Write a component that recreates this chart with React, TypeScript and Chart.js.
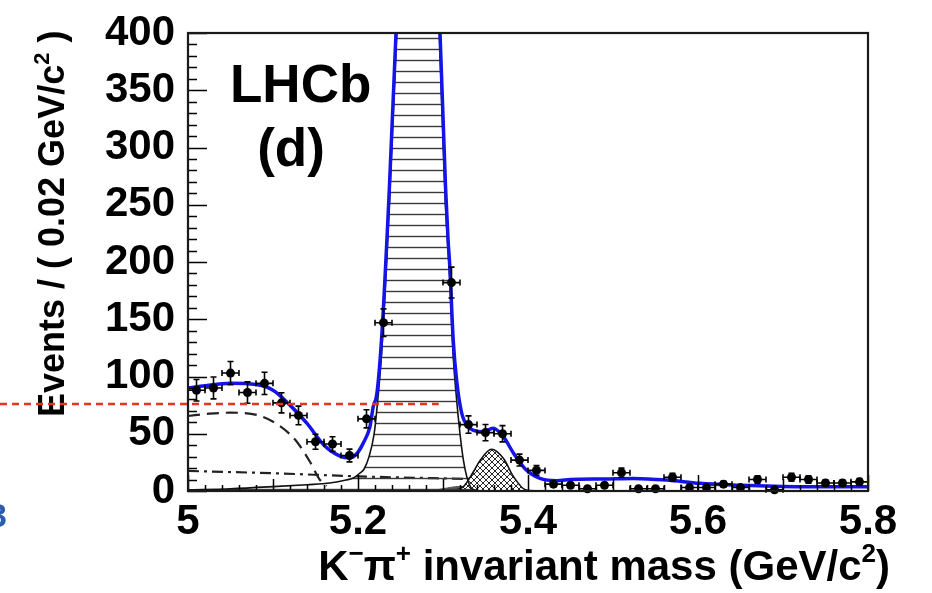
import React, { useEffect, useRef } from "react";
import { Chart, registerables } from "chart.js";

Chart.register(...registerables);

const FONT = "'Liberation Sans', Arial, Helvetica, sans-serif";

// ---- data points (bins of 0.02 GeV/c^2) ----
const binCenters = [5.01, 5.03, 5.05, 5.07, 5.09, 5.11, 5.13, 5.15, 5.17, 5.19, 5.21, 5.23, 5.25, 5.27, 5.29, 5.31, 5.33, 5.35, 5.37, 5.39, 5.41, 5.43, 5.45, 5.47, 5.49, 5.51, 5.53, 5.55, 5.57, 5.59, 5.61, 5.63, 5.65, 5.67, 5.69, 5.71, 5.73, 5.75, 5.77, 5.79];
const binCounts = [88, 90, 103, 86, 94, 77, 66, 43, 41, 31, 63, 147, 560, 690, 520, 182, 58, 51, 50, 27, 18, 6, 5, 2, 5, 16, 2, 2, 12, 3, 3, 6, 3, 10, 1, 12, 10, 7, 7, 8];
const binErrors = [9.4, 9.5, 10.1, 9.3, 9.7, 8.8, 8.1, 6.6, 6.4, 5.6, 7.9, 12.1, 23.7, 26.3, 22.8, 13.5, 7.6, 7.1, 7.1, 5.2, 4.2, 2.4, 2.2, 1.4, 2.2, 4.0, 1.4, 1.4, 3.5, 1.7, 1.7, 2.4, 1.7, 3.2, 1.0, 3.5, 3.2, 2.6, 2.6, 2.8];
const binHalfWidth = 0.01;

// ---- total fit (blue) ----
const fitMass = [5.0, 5.02, 5.05, 5.08, 5.1, 5.12, 5.14, 5.16, 5.179, 5.19, 5.199, 5.206, 5.214, 5.218, 5.222, 5.228, 5.237, 5.245, 5.258, 5.271, 5.284, 5.296, 5.303, 5.306, 5.308, 5.312, 5.316, 5.322, 5.33, 5.336, 5.347, 5.359, 5.371, 5.383, 5.398, 5.414, 5.434, 5.45, 5.49, 5.524, 5.563, 5.602, 5.64, 5.68, 5.72, 5.76, 5.8];
const fitEvents = [90, 92, 94, 93, 88, 75, 59, 40, 30.5, 29, 33, 41.6, 56, 74, 84, 136, 266, 405, 600, 690, 600, 410, 265, 219, 196, 132, 97, 68, 56, 53, 51.8, 54.8, 47.4, 33, 18.3, 11, 9, 10, 10.5, 11, 9.6, 6.7, 5.2, 4.4, 3.8, 3.8, 3.8];

// ---- B0 -> K pi signal (black, horizontal hatching) ----
const sigMass = [5.0, 5.05, 5.1, 5.14, 5.167, 5.186, 5.195, 5.202, 5.207, 5.213, 5.219, 5.222, 5.228, 5.237, 5.2455, 5.258, 5.271, 5.284, 5.2957, 5.3027, 5.308, 5.312, 5.316, 5.32, 5.324, 5.328, 5.334, 5.345, 5.8];
const sigEvents = [1, 2, 3.8, 5.5, 7, 9.6, 11.5, 15.5, 19, 30, 50, 70, 123, 253, 400, 590, 680, 590, 400, 253, 185, 118, 80, 50, 27, 12.5, 2, 0, 0];

// ---- Bs -> K pi (cross-hatched) ----
const bsMass = [5.31, 5.324, 5.336, 5.344, 5.357, 5.371, 5.383, 5.397, 5.41];
const bsEvents = [0, 3.8, 17, 27, 36.4, 28.5, 12.5, 1, 0];

// ---- small dark-grey component ----
const greyMass = [5.285, 5.3, 5.32, 5.34, 5.355];
const greyEvents = [0, 2, 4, 2.5, 0];

// ---- partially reconstructed background (dashed) ----
const partMass = [5.0, 5.025, 5.05, 5.081, 5.108, 5.128, 5.1435, 5.1553, 5.1631];
const partEvents = [65.5, 67.5, 68.4, 66.4, 56.8, 43, 25.5, 9.6, 4.5];

// ---- combinatorial background (dash-dot) ----
const combMass = [5.0, 5.1, 5.2, 5.3, 5.335];
const combEvents = [17.5, 15.5, 12.8, 11, 10.5];

// ---- axes ----
const xTickValues = [5.0, 5.2, 5.4, 5.6, 5.8];
const xTickLabels = ["5", "5.2", "5.4", "5.6", "5.8"];
const yTickValues = [0, 50, 100, 150, 200, 250, 300, 350, 400];
const yTickLabels = ["0", "50", "100", "150", "200", "250", "300", "350", "400"];
const markerLevel = 76; // red dashed guide level
const markerEnd = 5.295;

function makeHatch(): CanvasPattern | string {
  const c = document.createElement("canvas");
  c.width = 8;
  c.height = 11;
  const g = c.getContext("2d");
  if (!g) return "rgba(0,0,0,0.2)";
  g.strokeStyle = "#3a3a3a";
  g.lineWidth = 1.4;
  g.beginPath();
  g.moveTo(0, 5.5);
  g.lineTo(8, 5.5);
  g.stroke();
  return g.createPattern(c, "repeat") || "rgba(0,0,0,0.2)";
}

function makeCross(): CanvasPattern | string {
  const c = document.createElement("canvas");
  c.width = 6;
  c.height = 6;
  const g = c.getContext("2d");
  if (!g) return "#888";
  g.fillStyle = "#ffffff";
  g.fillRect(0, 0, 6, 6);
  g.strokeStyle = "#111";
  g.lineWidth = 0.9;
  g.beginPath();
  g.moveTo(-1, -1);
  g.lineTo(7, 7);
  g.moveTo(-1, 7);
  g.lineTo(7, -1);
  g.stroke();
  return g.createPattern(c, "repeat") || "#888";
}

const xy = (xs: number[], ys: number[]) => xs.map((x, i) => ({ x, y: ys[i] }));

const errorBarPlugin = {
  id: "errbars",
  beforeDatasetDraw(chart: any, args: any) {
    if (args.index !== 0) return;
    const { ctx, chartArea: a, scales } = chart;
    const xs = scales.x;
    const ys = scales.y;
    ctx.save();
    ctx.beginPath();
    ctx.rect(a.left, a.top, a.right - a.left, a.bottom - a.top + 6);
    ctx.clip();
    ctx.strokeStyle = "#000";
    ctx.lineWidth = 1.6;
    binCenters.forEach((c, i) => {
      const px = xs.getPixelForValue(c);
      const py = ys.getPixelForValue(binCounts[i]);
      const x0 = xs.getPixelForValue(c - binHalfWidth);
      const x1 = xs.getPixelForValue(c + binHalfWidth);
      const y0 = ys.getPixelForValue(binCounts[i] - binErrors[i]);
      const y1 = ys.getPixelForValue(binCounts[i] + binErrors[i]);
      ctx.beginPath();
      ctx.moveTo(x0, py);
      ctx.lineTo(x1, py);
      ctx.moveTo(px, y0);
      ctx.lineTo(px, y1);
      ctx.moveTo(x0, py - 3);
      ctx.lineTo(x0, py + 3);
      ctx.moveTo(x1, py - 3);
      ctx.lineTo(x1, py + 3);
      ctx.moveTo(px - 3, y0);
      ctx.lineTo(px + 3, y0);
      ctx.moveTo(px - 3, y1);
      ctx.lineTo(px + 3, y1);
      ctx.stroke();
    });
    ctx.restore();
  },
};

const framePlugin = {
  id: "frame",
  afterDatasetsDraw(chart: any) {
    const { ctx, chartArea: a, scales } = chart;
    const xs = scales.x;
    const ys = scales.y;
    ctx.save();
    ctx.strokeStyle = "#000";
    ctx.lineWidth = 1.5;
    ctx.beginPath();
    for (let v = 0; v <= 400; v += 10) {
      const y = Math.round(ys.getPixelForValue(v)) + 0.5;
      const len = v % 50 === 0 ? 19 : 9;
      ctx.moveTo(a.left, y);
      ctx.lineTo(a.left + len, y);
    }
    for (let i = 0; i <= 40; i++) {
      const x = Math.round(xs.getPixelForValue(5 + i * 0.02)) + 0.5;
      const len = i % 10 === 0 ? 16 : i % 5 === 0 ? 12 : 6;
      ctx.moveTo(x, a.bottom);
      ctx.lineTo(x, a.bottom - len);
    }
    ctx.stroke();
    ctx.lineWidth = 2.2;
    ctx.strokeStyle = "#1a1a1a";
    ctx.strokeRect(a.left, a.top, a.right - a.left, a.bottom - a.top);
    ctx.restore();
  },
};

function drawParts(ctx: CanvasRenderingContext2D, parts: { t: string; sup?: boolean }[], size: number, supSize: number, x: number, y: number, alignRight: boolean) {
  const widths = parts.map((p) => {
    ctx.font = `bold ${p.sup ? supSize : size}px ${FONT}`;
    return ctx.measureText(p.t).width;
  });
  const total = widths.reduce((s, w) => s + w, 0);
  let cx = alignRight ? x - total : x;
  parts.forEach((p, i) => {
    ctx.font = `bold ${p.sup ? supSize : size}px ${FONT}`;
    ctx.fillText(p.t, cx, p.sup ? y - size * 0.42 : y);
    cx += widths[i];
  });
}

const textPlugin = {
  id: "texts",
  afterDraw(chart: any) {
    const { ctx, scales } = chart;
    const xs = scales.x;
    const ys = scales.y;
    ctx.save();
    ctx.fillStyle = "#000";
    ctx.textAlign = "left";
    ctx.textBaseline = "alphabetic";

    // x title
    drawParts(
      ctx,
      [
        { t: "K" },
        { t: "\u2212", sup: true },
        { t: "\u03C0" },
        { t: "+", sup: true },
        { t: " invariant mass (GeV/c" },
        { t: "2", sup: true },
        { t: ")" },
      ],
      42,
      26,
      890,
      580,
      true
    );

    // y title (rotated)
    ctx.save();
    ctx.translate(64, 417);
    ctx.rotate(-Math.PI / 2);
    drawParts(
      ctx,
      [{ t: "Events / ( 0.02 GeV/c" }, { t: "2", sup: true }, { t: " )" }],
      36,
      22,
      0,
      0,
      false
    );
    ctx.restore();

    // LHCb label
    ctx.font = `bold 53px ${FONT}`;
    ctx.textAlign = "left";
    ctx.fillText("LHCb", 230, 102);
    ctx.textAlign = "center";
    ctx.fillText("(d)", 291, 166);

    // stray blue glyph at left edge
    ctx.fillStyle = "#2a5cb0";
    ctx.font = `bold 34px ${FONT}`;
    ctx.textAlign = "right";
    ctx.fillText("3", 7, 527);

    // red dashed guide line
    ctx.strokeStyle = "#e8321e";
    ctx.lineWidth = 2.5;
    ctx.setLineDash([7, 5]);
    ctx.beginPath();
    const ry = ys.getPixelForValue(markerLevel);
    ctx.moveTo(0, ry);
    ctx.lineTo(xs.getPixelForValue(markerEnd), ry);
    ctx.stroke();
    ctx.restore();
  },
};

export default function App() {
  const ref = useRef<HTMLCanvasElement | null>(null);

  useEffect(() => {
    const canvas = ref.current;
    if (!canvas) return;
    const hatch = makeHatch();
    const cross = makeCross();
    const tickFont = { family: FONT, size: 42, weight: "bold" as const, lineHeight: 0.8 };

    const chart = new Chart(canvas, {
      type: "scatter",
      data: {
        datasets: [
          {
            type: "scatter",
            data: xy(binCenters, binCounts),
            pointRadius: 4.5,
            pointBackgroundColor: "#000",
            pointBorderColor: "#000",
            pointBorderWidth: 0,
            clip: 8,
          } as any,
          {
            type: "line",
            data: xy(fitMass, fitEvents),
            borderColor: "#1414e6",
            borderWidth: 3.5,
            pointRadius: 0,
            cubicInterpolationMode: "monotone",
            fill: false,
            clip: 0,
          },
          {
            type: "line",
            data: xy(sigMass, sigEvents),
            borderColor: "#111",
            borderWidth: 1.6,
            pointRadius: 0,
            cubicInterpolationMode: "monotone",
            fill: "origin",
            backgroundColor: hatch as any,
            clip: 0,
          },
          {
            type: "line",
            data: xy(bsMass, bsEvents),
            borderColor: "#111",
            borderWidth: 1.6,
            pointRadius: 0,
            cubicInterpolationMode: "monotone",
            fill: "origin",
            backgroundColor: cross as any,
            clip: 0,
          },
          {
            type: "line",
            data: xy(greyMass, greyEvents),
            borderColor: "#555",
            borderWidth: 1,
            pointRadius: 0,
            cubicInterpolationMode: "monotone",
            fill: "origin",
            backgroundColor: "#5a5a5a",
            clip: 0,
          },
          {
            type: "line",
            data: xy(partMass, partEvents),
            borderColor: "#222",
            borderWidth: 2.2,
            borderDash: [12, 7],
            pointRadius: 0,
            cubicInterpolationMode: "monotone",
            fill: false,
            clip: 0,
          },
          {
            type: "line",
            data: xy(combMass, combEvents),
            borderColor: "#222",
            borderWidth: 2.2,
            borderDash: [11, 5, 3, 5],
            pointRadius: 0,
            cubicInterpolationMode: "monotone",
            fill: false,
            clip: 0,
          },
        ],
      },
      options: {
        responsive: false,
        animation: false,
        devicePixelRatio: 1,
        events: [],
        layout: { padding: { left: 0, right: 64, top: 33, bottom: 0 } },
        plugins: {
          legend: { display: false },
          tooltip: { enabled: false },
        },
        scales: {
          x: {
            type: "linear",
            min: 5,
            max: 5.8,
            grid: { display: false, drawTicks: false },
            border: { display: false },
            afterBuildTicks: (s: any) => {
              s.ticks = xTickValues.map((v) => ({ value: v }));
            },
            afterFit: (s: any) => {
              s.height = 102;
            },
            ticks: {
              font: { family: FONT, size: 42, weight: "bold" as const },
              color: "#000",
              padding: 6,
              maxRotation: 0,
              autoSkip: false,
              callback: (_v: any, i: number) => xTickLabels[i],
            },
          },
          y: {
            type: "linear",
            min: 0,
            max: 400,
            grid: { display: false, drawTicks: false },
            border: { display: false },
            afterBuildTicks: (s: any) => {
              s.ticks = yTickValues.map((v) => ({ value: v }));
            },
            afterFit: (s: any) => {
              s.width = 188;
            },
            ticks: {
              font: tickFont,
              color: "#000",
              padding: 13,
              autoSkip: false,
              callback: (_v: any, i: number) => yTickLabels[i],
            },
          },
        },
      },
      plugins: [errorBarPlugin, framePlugin, textPlugin],
    });
    return () => chart.destroy();
  }, []);

  return (
    <div style={{ position: "absolute", left: 0, top: 0, width: 932, height: 593, background: "#fff" }}>
      <canvas ref={ref} width={932} height={593} style={{ display: "block" }} />
    </div>
  );
}
